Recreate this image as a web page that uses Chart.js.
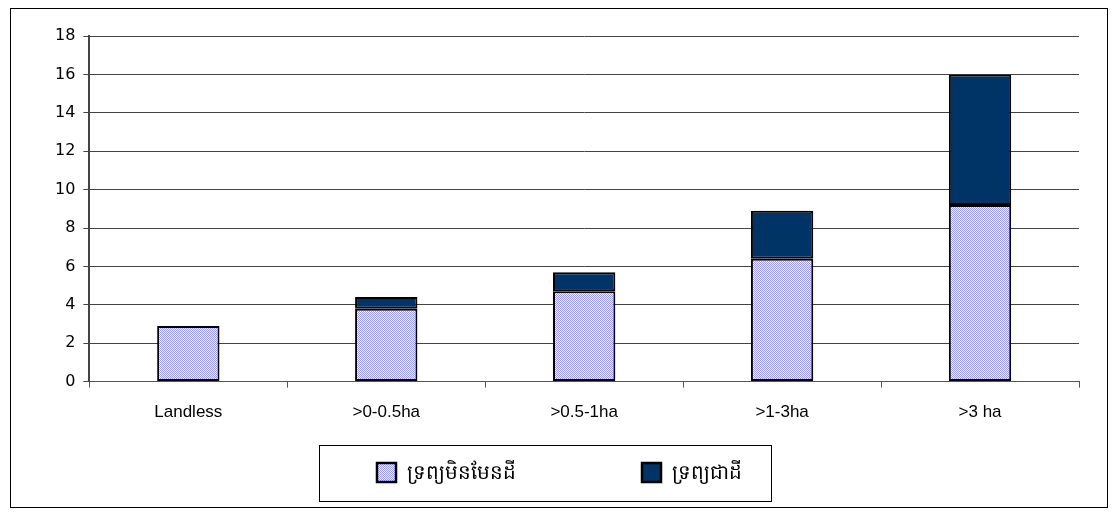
<!DOCTYPE html>
<html>
<head>
<meta charset="utf-8">
<script src="https://cdn.jsdelivr.net/npm/chart.js@4"></script>
<style>
  body { margin: 0; background: #fff; }
  #box { position: absolute; left: 10px; top: 8px; width: 1098px; height: 500px; border: 1px solid #000; box-sizing: border-box; }
</style>
</head>
<body>
<div id="box"><canvas id="chart"></canvas></div>
<script>
const categories = ['Landless', '>0-0.5ha', '>0.5-1ha', '>1-3ha', '>3 ha'];
const nonLand = [2.9, 3.8, 4.7, 6.4, 9.2];
const land = [0, 0.6, 1.0, 2.5, 6.8];
const seriesNames = ['ទ្រព្យមិនមែនដី', 'ទ្រព្យជាដី'];

// fine dotted hatch for the first series
const pc = document.createElement('canvas');
pc.width = 4; pc.height = 4;
const px = pc.getContext('2d');
px.fillStyle = '#f4f4ff';
px.fillRect(0, 0, 4, 4);
px.fillStyle = '#9c9cff';
for (let y = 0; y < 4; y++) {
    for (let x = 0; x < 4; x++) {
        if ((x + y) % 2 === 0) px.fillRect(x, y, 1, 1);
    }
}
const hatch = px.createPattern(pc, 'repeat');

const legendBox = {
    id: 'legendBox',
    afterDraw(chart) {
        const c = chart.ctx;
        const x0 = 308, y0 = 436, w = 452, h = 56;
        c.save();
        c.strokeStyle = '#000';
        c.lineWidth = 1;
        c.strokeRect(x0 + 0.5, y0 + 0.5, w, h);
        const pos = [58, 323];
        chart.data.datasets.forEach((ds, i) => {
            const bx = x0 + pos[i], by = y0 + 18;
            c.fillStyle = ds.backgroundColor;
            c.fillRect(bx, by, 19, 19);
            c.lineWidth = 2.5;
            c.strokeRect(bx, by, 19, 19);
            c.fillStyle = '#000';
            c.font = '20px "Noto Sans", "DejaVu Sans", sans-serif';
            c.textBaseline = 'middle';
            c.fillText(ds.label, bx + 30, by + 10);
        });
        c.restore();
    }
};

new Chart(document.getElementById('chart'), {
    type: 'bar',
    data: {
        labels: categories,
        datasets: [{
            label: seriesNames[0],
            data: nonLand,
            backgroundColor: hatch,
            borderColor: '#000',
            borderWidth: 2,
            borderSkipped: false,
            categoryPercentage: 1,
            barPercentage: 0.315
        },
        {
            label: seriesNames[1],
            data: land,
            backgroundColor: '#003366',
            borderColor: '#000',
            borderWidth: 2,
            borderSkipped: false,
            categoryPercentage: 1,
            barPercentage: 0.315
        }]
    },
    options: {
        responsive: true,
        maintainAspectRatio: false,
        animation: false,
        layout: { padding: { left: 36, right: 28, top: 27, bottom: 69 } },
        plugins: {
            legend: { display: false },
            tooltip: { enabled: false }
        },
        scales: {
            x: {
                stacked: true,
                grid: { offset: true, drawOnChartArea: false, drawTicks: true, tickLength: 6, color: '#555' },
                border: { color: '#555', width: 1 },
                ticks: { color: '#000', padding: 15, font: { family: 'Liberation Sans', size: 17 } }
            },
            y: {
                stacked: true,
                min: 0,
                max: 18,
                ticks: { stepSize: 2, color: '#000', padding: 8, font: { family: 'DejaVu Sans', size: 16 } },
                grid: { color: '#444', lineWidth: 1, tickLength: 6 },
                border: { color: '#444', width: 2 }
            }
        }
    },
    plugins: [legendBox]
});
</script>
</body>
</html>
